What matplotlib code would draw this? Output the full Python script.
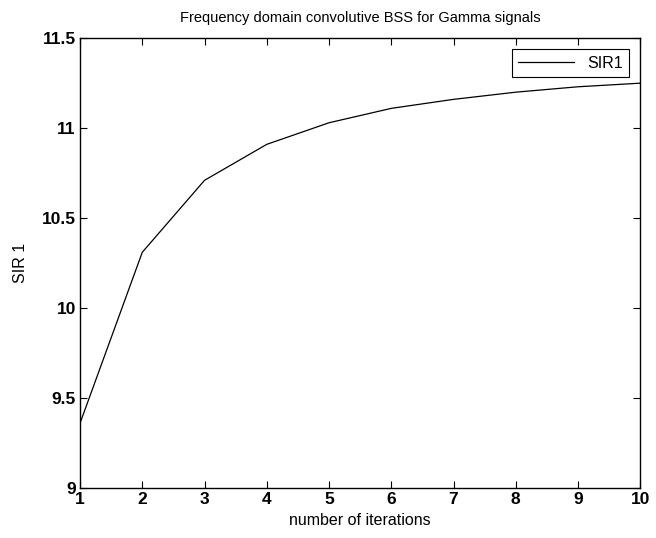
import matplotlib
matplotlib.use('Agg')
import matplotlib.pyplot as plt

# datos
iterations = [1, 2, 3, 4, 5, 6, 7, 8, 9, 10]
sir1 = [9.36, 10.31, 10.71, 10.91, 11.03, 11.11, 11.16, 11.20, 11.23, 11.25]
xticks = [1, 2, 3, 4, 5, 6, 7, 8, 9, 10]
yticks = [9, 9.5, 10, 10.5, 11, 11.5]

plt.rcParams['font.family'] = ['Liberation Sans', 'DejaVu Sans']

fig = plt.figure(figsize=(6.56, 5.38), dpi=100)
ax = fig.add_axes([0.122, 0.093, 0.854, 0.836])

ax.plot(iterations, sir1, color='black', linewidth=0.9, label='SIR1')
ax.set_xlim(1, 10)
ax.set_ylim(9, 11.5)
ax.set_xticks(xticks)
ax.set_yticks(yticks)
ax.set_yticklabels(['9', '9.5', '10', '10.5', '11', '11.5'])
ax.tick_params(direction='in', top=True, right=True, length=5, labelsize=12.5, pad=3)
for lbl in ax.get_xticklabels() + ax.get_yticklabels():
    lbl.set_fontweight('bold')
for s in ax.spines.values():
    s.set_linewidth(1.0)

ax.set_xlabel('number of iterations', fontsize=11.5, labelpad=4)
ax.set_ylabel('SIR 1', fontsize=11.5, labelpad=10)
ax.set_title('Frequency domain convolutive BSS for Gamma signals', fontsize=10.5, pad=12)

leg = ax.legend(loc='upper right', fontsize=11.5, fancybox=False, framealpha=1,
                edgecolor='black', handlelength=3.5, borderaxespad=0.7)
leg.get_frame().set_linewidth(0.8)

fig.savefig('out.png', dpi=100)
